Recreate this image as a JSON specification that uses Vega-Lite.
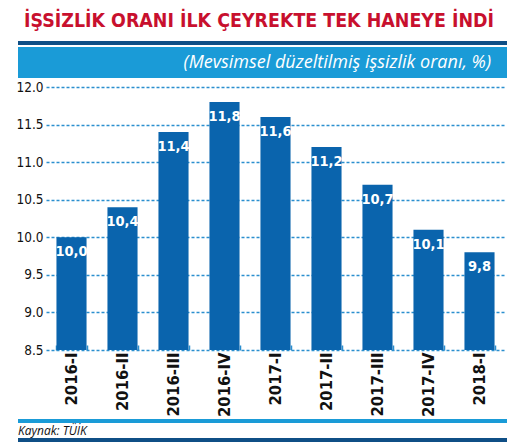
{
  "$schema": "https://vega.github.io/schema/vega-lite/v6.json",
  "description": "Issizlik orani ilk ceyrekte tek haneye indi",
  "padding": {"left": 10, "top": 10, "right": 7, "bottom": 0},
  "title": {
    "text": "İŞSİZLİK ORANI İLK ÇEYREKTE TEK HANEYE İNDİ",
    "font": "DejaVu Sans Condensed",
    "fontSize": 19.4,
    "fontWeight": "bold",
    "color": "#c8102e",
    "anchor": "middle",
    "offset": 10
  },
  "spacing": 2,
  "vconcat": [
    {
      "width": 490,
      "height": 4,
      "data": {"values": [{}]},
      "mark": {"type": "rect", "color": "#0f4f86"},
      "encoding": {}
    },
    {
      "width": 490,
      "height": 31,
      "data": {"values": [{"t": "(Mevsimsel düzeltilmiş işsizlik oranı, %)"}]},
      "layer": [
        {"mark": {"type": "rect", "color": "#1a9bd7"}, "encoding": {}},
        {
          "mark": {
            "type": "text",
            "x": "width",
            "y": "height",
            "dx": -17,
            "dy": -15,
            "align": "right",
            "baseline": "middle",
            "font": "Open Sans",
            "fontSize": 18,
            "fontStyle": "italic",
            "color": "white"
          },
          "encoding": {"text": {"field": "t"}}
        }
      ]
    },
    {
      "width": 487,
      "height": 263,
      "data": {
        "values": [
          {"q": "2016-I", "v": 10.0, "label": "10,0"},
          {"q": "2016-II", "v": 10.4, "label": "10,4"},
          {"q": "2016-III", "v": 11.4, "label": "11,4"},
          {"q": "2016-IV", "v": 11.8, "label": "11,8"},
          {"q": "2017-I", "v": 11.6, "label": "11,6"},
          {"q": "2017-II", "v": 11.2, "label": "11,2"},
          {"q": "2017-III", "v": 10.7, "label": "10,7"},
          {"q": "2017-IV", "v": 10.1, "label": "10,1"},
          {"q": "2018-I", "v": 9.8, "label": "9,8"}
        ]
      },
      "encoding": {
        "x": {
          "field": "q",
          "type": "nominal",
          "sort": null,
          "scale": {"paddingInner": 0.41, "range": [28, 487]},
          "axis": {
            "title": null,
            "labelAngle": -90,
            "labelFont": "DejaVu Sans Condensed",
            "labelFontSize": 16.5,
            "labelFontWeight": "bold",
            "labelColor": "#111",
            "labelPadding": 7,
            "domain": false,
            "tickBand": "extent",
            "tickSize": -5,
            "tickColor": "#2b8fcf",
            "tickWidth": 1.5
          }
        },
        "y": {
          "field": "v",
          "type": "quantitative",
          "scale": {"domain": [8.5, 12], "zero": false, "nice": false},
          "axis": {
            "title": null,
            "offset": -28,
            "values": [8.5, 9, 9.5, 10, 10.5, 11, 11.5, 12],
            "format": ".1f",
            "grid": true,
            "gridColor": "#2b8fcf",
            "gridDash": [3, 2],
            "gridWidth": 1.5,
            "domain": false,
            "ticks": false,
            "labelFont": "DejaVu Sans Condensed",
            "labelFontSize": 13.5,
            "labelColor": "#111",
            "labelPadding": 3
          }
        }
      },
      "layer": [
        {
          "mark": {"type": "bar", "color": "#0a64ad"},
          "encoding": {"y2": {"datum": 8.5}}
        },
        {
          "mark": {
            "type": "text",
            "baseline": "top",
            "dy": 8,
            "font": "DejaVu Sans Condensed",
            "fontSize": 14.5,
            "fontWeight": "bold",
            "color": "white"
          },
          "encoding": {"text": {"field": "label"}}
        }
      ]
    },
    {
      "width": 490,
      "height": 4,
      "data": {"values": [{}]},
      "mark": {"type": "rect", "color": "#1a9bd7"},
      "encoding": {}
    },
    {
      "width": 490,
      "height": 4,
      "title": {
        "text": "Kaynak: TÜİK",
        "anchor": "start",
        "font": "Open Sans",
        "fontSize": 12,
        "fontStyle": "italic",
        "fontWeight": "normal",
        "color": "#111",
        "offset": 0
      },
      "data": {"values": [{}]},
      "mark": {"type": "rect", "color": "#0f4f86"},
      "encoding": {}
    }
  ],
  "config": {
    "view": {"stroke": null},
    "font": "DejaVu Sans Condensed"
  }
}
